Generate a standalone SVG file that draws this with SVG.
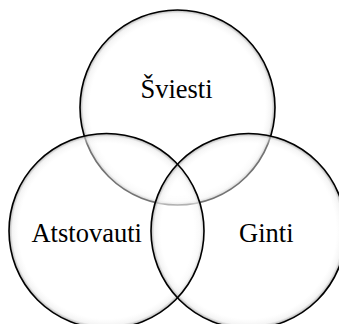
<svg xmlns="http://www.w3.org/2000/svg" width="339" height="324" viewBox="0 0 339 324">
<style>
.fill{fill:url(#shade);}
.ring{fill:none;stroke:#000;stroke-width:1.6;}
.lbl{font-size:26.5px;fill:#000;text-anchor:middle;}
</style>
<defs>
<radialGradient id="shade" cx="50%" cy="50%" r="50%">
<stop offset="0" stop-color="#fff" stop-opacity="0.45"/>
<stop offset="0.9" stop-color="#fff" stop-opacity="0.45"/>
<stop offset="0.965" stop-color="#eee" stop-opacity="0.65"/>
<stop offset="1" stop-color="#999" stop-opacity="0.85"/>
</radialGradient>
</defs>
<rect width="339" height="324" fill="#fff"/>
<g id="node-sviesti">
<circle class="fill" cx="177.5" cy="107.5" r="97.5"/>
<circle class="ring" cx="177.5" cy="107.5" r="97.5"/>
</g>
<g id="node-atstovauti">
<circle class="fill" cx="106.5" cy="231" r="97.5"/>
</g>
<g id="node-ginti">
<circle class="fill" cx="248.5" cy="231" r="97.5"/>
</g>
<g id="outlines">
<circle class="ring" cx="106.5" cy="231" r="97.5"/>
<circle class="ring" cx="248.5" cy="231" r="97.5"/>
</g>
<g id="labels" font-family="'Liberation Serif', 'Times New Roman', serif">
<text class="lbl" x="176.5" y="97.5">Šviesti</text>
<text class="lbl" x="86.7" y="241.7">Atstovauti</text>
<text class="lbl" x="266.3" y="242.3">Ginti</text>
</g>
</svg>
